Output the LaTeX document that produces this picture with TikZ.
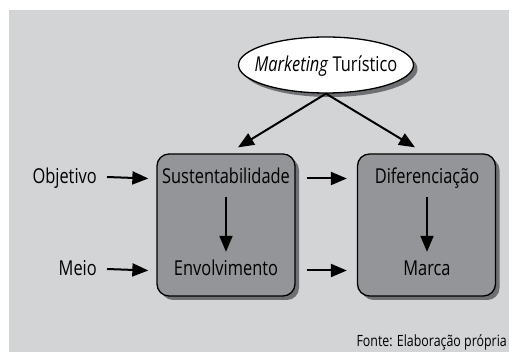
\documentclass[tikz,border=0pt]{standalone}
\usepackage{fontspec}
\setmainfont[FakeStretch=0.8]{Open Sans}
\usepackage{tikz}
\usetikzlibrary{shapes.geometric, arrows.meta, positioning, shadows}

\definecolor{bggray}{HTML}{D3D4D6}
\definecolor{boxgray}{HTML}{939598}
\definecolor{shadowgray}{HTML}{6F7073}

\tikzset{
    bloco/.style={draw=black, line width=1.3pt, fill=boxgray, rounded corners=12pt,
        minimum width=138pt, minimum height=142pt, inner sep=0pt,
        drop shadow={shadow xshift=4pt, shadow yshift=-4pt, fill=shadowgray, opacity=1}},
    texto/.style={inner sep=0pt, text height=15pt, text depth=4pt, anchor=base,
        font=\fontsize{20.5}{24}\selectfont},
    seta/.style={line width=2pt, -{Triangle[length=16pt, width=13pt]}}
}

\begin{document}
\begin{tikzpicture}[x=1pt, y=-1pt]
    \useasboundingbox (0,0) rectangle (509,352);
    \fill[bggray] (9,10) rectangle (509,352);

    % elipse do topo
    \node[ellipse, draw=black, line width=1.3pt, fill=white, minimum width=175pt, minimum height=56pt,
        drop shadow={shadow xshift=4pt, shadow yshift=-4pt, fill=shadowgray, opacity=1}]
        (mkt) at (326,65) {};
    \node[texto] (mkttxt) at (326,72) {\textit{Marketing} Turístico};

    % blocos
    \node[bloco] (bloco1) at (226,225) {};
    \node[bloco] (bloco2) at (426.5,225) {};

    \node[texto] (sust) at (226,184) {Sustentabilidade};
    \node[texto] (envol) at (226,276) {Envolvimento};
    \node[texto] (dif) at (427,184) {Diferenciação};
    \node[texto] (marca) at (427,276) {Marca};

    \node[texto, anchor=base east] (objetivo) at (97,184) {Objetivo};
    \node[texto, anchor=base east] (meio) at (97,276) {Meio};

    % setas
    \draw[seta] (mkt.south) -- ([xshift=12pt, yshift=6pt]bloco1.north);
    \draw[seta] (mkt.south) -- ([xshift=-11.5pt, yshift=6pt]bloco2.north);

    \draw[seta] ([xshift=10pt, yshift=7pt]objetivo.base east) -- ([xshift=-8pt]bloco1.west |- sust.center);
    \draw[seta] ([xshift=10pt, yshift=7pt]meio.base east) -- ([xshift=-8pt]bloco1.west |- envol.center);
    \draw[seta] ([xshift=11pt]bloco1.east |- sust.center) -- ([xshift=-10pt]bloco2.west |- sust.center);
    \draw[seta] ([xshift=11pt]bloco1.east |- envol.center) -- ([xshift=-10pt]bloco2.west |- envol.center);

    \draw[seta] ([yshift=-9pt]sust.south) -- ([yshift=9pt]envol.north);
    \draw[seta] ([yshift=-9pt]dif.south) -- ([yshift=9pt]marca.north);

    \node[inner sep=0pt, anchor=base east, font=\fontsize{15.5}{18}\selectfont] (fonte) at (507,347) {Fonte: Elaboração própria};
\end{tikzpicture}
\end{document}
